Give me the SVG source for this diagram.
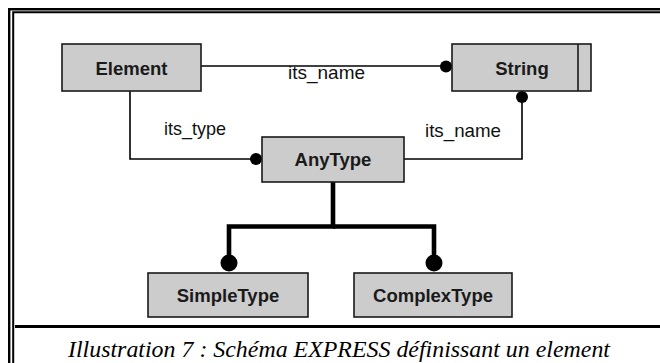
<svg xmlns="http://www.w3.org/2000/svg" width="660" height="363" viewBox="0 0 660 363">
<style>
.box{fill:#cccccc;stroke:#1a1a1a;stroke-width:1.6}
.lbl{font-family:"Liberation Sans",Arial,sans-serif;font-weight:bold;font-size:18.5px;fill:#1a1a1a;text-anchor:middle}
.rel{font-family:"Liberation Sans",Arial,sans-serif;font-size:18.5px;fill:#111}
.thin{fill:none;stroke:#000;stroke-width:1.6}
.thick{fill:none;stroke:#000;stroke-width:4.6}
.frame{fill:none;stroke:#000}
</style>
<rect width="660" height="363" fill="#fff"/>
<g id="frame">
<path class="frame" d="M9.2 363 V9.2 H660" stroke-width="2.4"/>
<path class="frame" d="M13.2 363 V12.3 H660" stroke-width="2"/>
<path class="frame" d="M15 326.5 H660" stroke-width="3"/>
</g>
<g id="connectors">
<path class="thin" d="M201 66 H446"/>
<circle cx="446" cy="66.5" r="6"/>
<path class="thin" d="M130 91 V159 H256"/>
<circle cx="256" cy="159" r="6"/>
<path class="thin" d="M404 159 H522 V97"/>
<circle cx="522" cy="97" r="6"/>
<path class="thick" d="M333 182 V226.5 H229 V262"/>
<path class="thick" d="M333 226.5 H434 V262"/>
<circle cx="229" cy="263" r="8.5"/>
<circle cx="434" cy="263" r="8.5"/>
<text class="rel" x="288" y="79" textLength="77" lengthAdjust="spacingAndGlyphs">its_name</text>
<text class="rel" x="164" y="135" textLength="62" lengthAdjust="spacingAndGlyphs">its_type</text>
<text class="rel" x="425" y="137" textLength="76" lengthAdjust="spacingAndGlyphs">its_name</text>
</g>
<g id="Element">
<rect class="box" x="62" y="44" width="139" height="47"/>
<text class="lbl" x="131.5" y="75">Element</text>
</g>
<g id="String">
<rect class="box" x="452" y="44" width="139" height="47"/>
<line x1="578" y1="44" x2="578" y2="91" stroke="#1a1a1a" stroke-width="1.6"/>
<text class="lbl" x="522" y="75">String</text>
</g>
<g id="AnyType">
<rect class="box" x="262" y="137" width="142" height="45"/>
<text class="lbl" x="333" y="166">AnyType</text>
</g>
<g id="SimpleType">
<rect class="box" x="148" y="273" width="160" height="44"/>
<text class="lbl" x="228" y="302">SimpleType</text>
</g>
<g id="ComplexType">
<rect class="box" x="354" y="273" width="158" height="44"/>
<text class="lbl" x="433" y="302">ComplexType</text>
</g>
<text x="68" y="357" font-family="'Liberation Serif','Times New Roman',serif" font-style="italic" font-size="23" fill="#000" textLength="542" lengthAdjust="spacingAndGlyphs">Illustration 7 : Schéma EXPRESS définissant un element</text>
</svg>
